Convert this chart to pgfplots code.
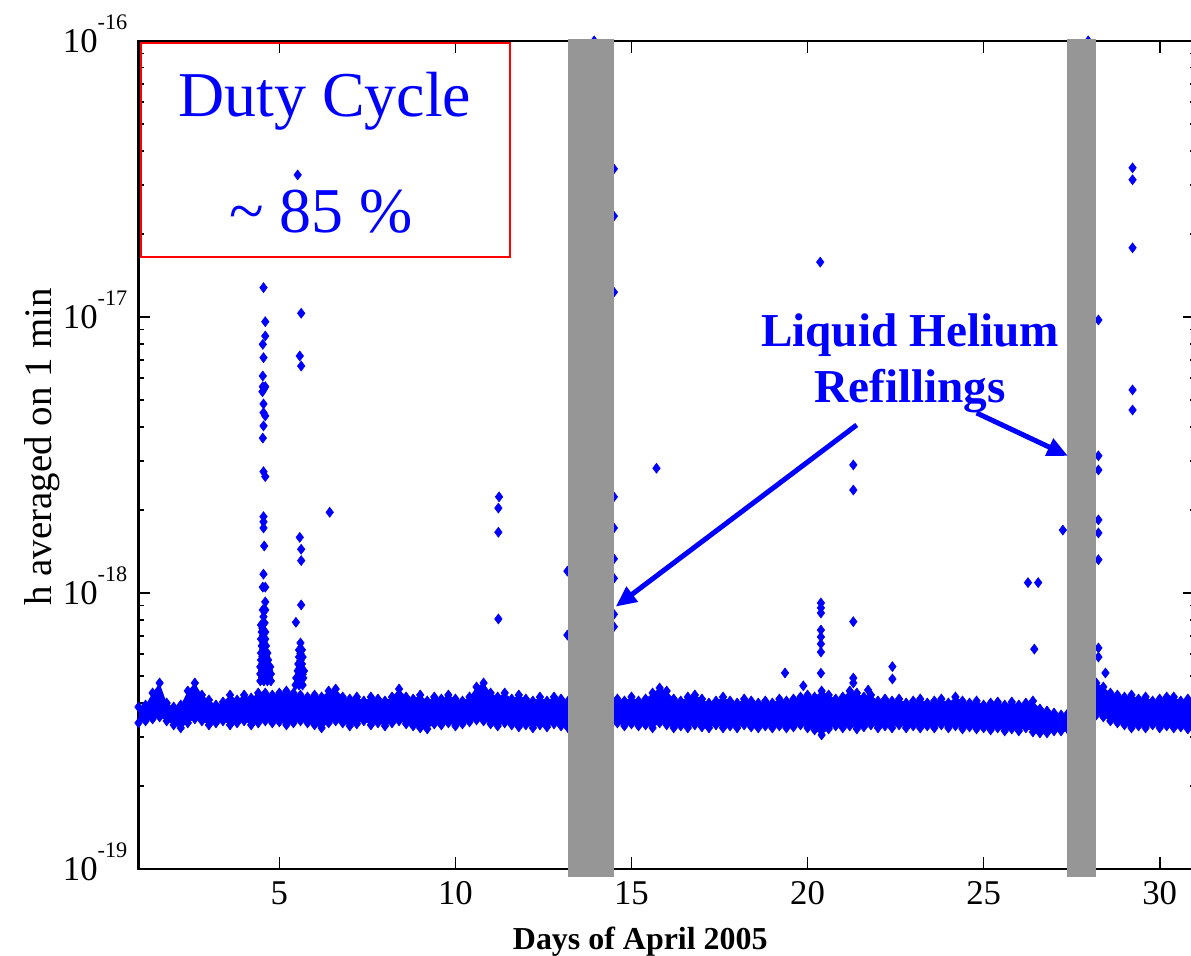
\documentclass[border=0pt]{standalone}
\usepackage{fontspec}
\setmainfont{Liberation Serif}
\usepackage{pgfplots}
\pgfplotsset{compat=1.18}
\usepackage{pgfplotstable}
\usepgfplotslibrary{fillbetween}
\usetikzlibrary{arrows.meta}

\definecolor{dblue}{HTML}{0000FF}
\definecolor{bargray}{HTML}{969696}
\definecolor{boxred}{HTML}{FF0000}

\newcommand{\ylab}[1]{10\raisebox{8.2pt}{\fontsize{8}{8}\selectfont -#1}}

% 1-min averages: upper and lower edge of the noise band
\pgfplotstableread{
d u l
1.0 3.864e-19 3.382e-19
1.2 3.929e-19 3.439e-19
1.4 4.342e-19 3.496e-19
1.6 4.719e-19 3.555e-19
1.8 3.995e-19 3.439e-19
2.0 3.864e-19 3.326e-19
2.2 3.929e-19 3.244e-19
2.4 4.415e-19 3.382e-19
2.6 4.719e-19 3.496e-19
2.8 4.270e-19 3.439e-19
3.0 4.096e-19 3.326e-19
3.2 3.929e-19 3.382e-19
3.4 4.028e-19 3.439e-19
3.6 4.270e-19 3.326e-19
3.8 4.096e-19 3.382e-19
4.0 4.270e-19 3.439e-19
4.2 4.165e-19 3.326e-19
4.4 4.342e-19 3.382e-19
4.6 4.342e-19 3.439e-19
4.8 4.270e-19 3.382e-19
5.0 4.342e-19 3.410e-19
5.2 4.415e-19 3.326e-19
5.4 4.342e-19 3.382e-19
5.6 4.270e-19 3.439e-19
5.8 4.200e-19 3.382e-19
6.0 4.270e-19 3.326e-19
6.2 4.200e-19 3.244e-19
6.4 4.415e-19 3.382e-19
6.6 4.489e-19 3.439e-19
6.8 4.200e-19 3.382e-19
7.0 4.130e-19 3.298e-19
7.2 4.200e-19 3.354e-19
7.4 4.062e-19 3.439e-19
7.6 4.200e-19 3.326e-19
7.8 4.130e-19 3.382e-19
8.0 4.062e-19 3.298e-19
8.2 4.200e-19 3.382e-19
8.4 4.489e-19 3.439e-19
8.6 4.200e-19 3.354e-19
8.8 4.130e-19 3.298e-19
9.0 4.270e-19 3.244e-19
9.2 4.062e-19 3.217e-19
9.4 4.200e-19 3.354e-19
9.6 4.130e-19 3.326e-19
9.8 4.270e-19 3.382e-19
10.0 4.130e-19 3.298e-19
10.2 4.062e-19 3.354e-19
10.4 4.200e-19 3.410e-19
10.6 4.565e-19 3.467e-19
10.8 4.719e-19 3.439e-19
11.0 4.342e-19 3.354e-19
11.2 4.200e-19 3.298e-19
11.4 4.342e-19 3.382e-19
11.6 4.130e-19 3.326e-19
11.8 4.270e-19 3.271e-19
12.0 4.130e-19 3.326e-19
12.2 4.062e-19 3.244e-19
12.4 4.200e-19 3.326e-19
12.6 4.062e-19 3.271e-19
12.8 4.200e-19 3.354e-19
13.0 4.130e-19 3.298e-19
13.2 4.062e-19 3.244e-19
13.4 4.100e-19 3.300e-19
13.6 4.100e-19 3.300e-19
13.8 4.100e-19 3.300e-19
14.0 4.100e-19 3.300e-19
14.2 4.100e-19 3.300e-19
14.4 4.100e-19 3.300e-19
14.6 4.130e-19 3.382e-19
14.8 4.062e-19 3.298e-19
15.0 4.200e-19 3.354e-19
15.2 4.062e-19 3.298e-19
15.4 4.130e-19 3.326e-19
15.6 4.342e-19 3.244e-19
15.8 4.527e-19 3.382e-19
16.0 4.415e-19 3.326e-19
16.2 4.130e-19 3.244e-19
16.4 4.062e-19 3.298e-19
16.6 4.200e-19 3.244e-19
16.8 4.270e-19 3.326e-19
17.0 4.130e-19 3.271e-19
17.2 3.995e-19 3.244e-19
17.4 4.062e-19 3.326e-19
17.6 4.200e-19 3.244e-19
17.8 4.062e-19 3.298e-19
18.0 3.995e-19 3.244e-19
18.2 4.130e-19 3.326e-19
18.4 4.062e-19 3.271e-19
18.6 3.995e-19 3.244e-19
18.8 4.062e-19 3.298e-19
19.0 3.995e-19 3.244e-19
19.2 4.130e-19 3.298e-19
19.4 4.062e-19 3.244e-19
19.6 4.130e-19 3.271e-19
19.8 4.200e-19 3.326e-19
20.0 4.270e-19 3.244e-19
20.2 4.200e-19 3.190e-19
20.4 4.415e-19 3.060e-19
20.6 4.270e-19 3.217e-19
20.8 4.130e-19 3.298e-19
21.0 4.200e-19 3.244e-19
21.2 4.415e-19 3.298e-19
21.4 4.342e-19 3.217e-19
21.6 4.200e-19 3.271e-19
21.8 4.270e-19 3.326e-19
22.0 4.062e-19 3.244e-19
22.2 4.130e-19 3.298e-19
22.4 4.062e-19 3.244e-19
22.6 4.130e-19 3.326e-19
22.8 3.995e-19 3.244e-19
23.0 4.062e-19 3.298e-19
23.2 4.130e-19 3.244e-19
23.4 3.995e-19 3.298e-19
23.6 4.062e-19 3.244e-19
23.8 4.130e-19 3.326e-19
24.0 3.995e-19 3.244e-19
24.2 4.200e-19 3.298e-19
24.4 4.062e-19 3.217e-19
24.6 3.995e-19 3.271e-19
24.8 4.062e-19 3.217e-19
25.0 3.929e-19 3.244e-19
25.2 3.995e-19 3.190e-19
25.4 4.028e-19 3.244e-19
25.6 3.929e-19 3.164e-19
25.8 4.028e-19 3.217e-19
26.0 3.929e-19 3.164e-19
26.2 3.995e-19 3.244e-19
26.4 4.062e-19 3.137e-19
26.6 3.800e-19 3.111e-19
26.8 3.737e-19 3.111e-19
27.0 3.675e-19 3.164e-19
27.2 3.615e-19 3.164e-19
27.4 3.675e-19 3.190e-19
27.6 3.700e-19 3.200e-19
27.8 3.700e-19 3.200e-19
28.0 3.700e-19 3.200e-19
28.2 4.719e-19 3.615e-19
28.4 4.565e-19 3.555e-19
28.6 4.342e-19 3.439e-19
28.8 4.270e-19 3.382e-19
29.0 4.200e-19 3.326e-19
29.2 4.270e-19 3.244e-19
29.4 4.130e-19 3.298e-19
29.6 4.200e-19 3.244e-19
29.8 4.062e-19 3.326e-19
30.0 4.130e-19 3.244e-19
30.2 4.200e-19 3.298e-19
30.4 4.200e-19 3.244e-19
30.6 4.062e-19 3.271e-19
30.8 4.130e-19 3.217e-19
31.0 4.062e-19 3.271e-19
}\band

% single minutes above the band
\pgfplotstableread{
d h
4.48 7.66e-19
4.58 7.79e-19
4.52 7.45e-19
4.50 7.22e-19
4.60 7.22e-19
4.54 7.00e-19
4.48 6.81e-19
4.60 6.81e-19
4.55 6.62e-19
4.50 6.43e-19
4.62 6.43e-19
4.54 6.25e-19
4.48 6.06e-19
4.58 6.06e-19
4.66 6.06e-19
4.52 5.89e-19
4.62 5.89e-19
4.48 5.72e-19
4.58 5.72e-19
4.68 5.72e-19
4.52 5.56e-19
4.62 5.56e-19
4.46 5.40e-19
4.56 5.40e-19
4.66 5.40e-19
4.74 5.40e-19
4.51 5.24e-19
4.61 5.24e-19
4.71 5.24e-19
4.46 5.09e-19
4.56 5.09e-19
4.66 5.09e-19
4.76 5.09e-19
4.51 4.94e-19
4.61 4.94e-19
4.71 4.94e-19
4.46 4.80e-19
4.56 4.80e-19
4.66 4.80e-19
4.76 4.80e-19
4.55 1.277e-17
4.60 9.61e-18
4.60 8.53e-18
4.53 7.96e-18
4.55 7.12e-18
4.53 6.11e-18
4.53 5.59e-18
4.60 5.59e-18
4.52 5.36e-18
4.57 5.50e-18
4.55 4.84e-18
4.55 4.50e-18
4.60 4.38e-18
4.55 4.03e-18
4.53 3.64e-18
4.55 2.75e-18
4.60 2.64e-18
4.55 1.89e-18
4.55 1.81e-18
4.55 1.72e-18
4.57 1.48e-18
4.55 1.17e-18
4.53 1.05e-18
4.60 1.05e-18
4.60 9.28e-19
4.53 8.68e-19
4.60 8.68e-19
4.55 8.20e-19
5.60 6.59e-19
5.64 6.22e-19
5.56 6.22e-19
5.60 6.04e-19
5.56 5.86e-19
5.66 5.86e-19
5.60 5.70e-19
5.54 5.53e-19
5.64 5.53e-19
5.58 5.37e-19
5.52 5.22e-19
5.62 5.22e-19
5.70 5.22e-19
5.56 5.07e-19
5.66 5.07e-19
5.48 4.92e-19
5.58 4.92e-19
5.68 4.92e-19
5.46 4.64e-19
5.56 4.64e-19
5.66 4.64e-19
5.52 3.27e-17
5.62 1.031e-17
5.58 7.22e-18
5.62 6.64e-18
5.58 1.59e-18
5.62 1.44e-18
5.62 1.31e-18
5.62 9.05e-19
5.47 7.83e-19
6.43 1.96e-18
11.24 2.23e-18
11.22 2.03e-18
11.22 1.66e-18
11.22 8.05e-19
13.18 1.20e-18
13.18 7.04e-19
13.94 1.0e-16
14.50 3.44e-17
14.50 2.32e-17
14.50 1.23e-17
14.50 2.23e-18
14.50 1.72e-18
14.50 1.33e-18
14.50 1.13e-18
14.50 8.37e-19
14.50 7.55e-19
15.71 2.83e-18
19.36 5.13e-19
19.88 4.61e-19
20.36 1.58e-17
20.38 9.20e-19
20.38 8.83e-19
20.38 8.46e-19
20.38 7.34e-19
20.38 6.93e-19
20.38 6.54e-19
20.38 6.11e-19
20.38 5.12e-19
21.30 2.91e-18
21.30 2.36e-18
21.30 7.87e-19
21.30 4.92e-19
21.30 4.72e-19
21.72 4.45e-19
22.41 5.41e-19
22.41 4.88e-19
26.26 1.09e-18
26.55 1.09e-18
26.44 6.26e-19
27.25 1.69e-18
27.97 1.0e-16
28.26 9.75e-18
28.26 3.14e-18
28.26 2.79e-18
28.26 1.84e-18
28.26 1.65e-18
28.26 1.32e-18
28.26 6.32e-19
28.26 5.86e-19
28.46 5.13e-19
29.23 3.47e-17
29.23 3.14e-17
29.23 1.78e-17
29.23 5.44e-18
29.23 4.60e-18
}\spikes

\begin{document}
\begin{tikzpicture}
\begin{axis}[
  scale only axis,
  width=380.3pt, height=298.1pt,
  xmin=1, xmax=31,
  ymode=log, ymin=1e-19, ymax=1e-16,
  clip=false, clip marker paths=true,
  axis line style={line width=0.75pt},
  xtick={5,10,15,20,25,30},
  xticklabels={5,10,15,20,25,30},
  ytick={1e-19,1e-18,1e-17,1e-16},
  yticklabels={\ylab{19},\ylab{18},\ylab{17},\ylab{16}},
  minor ytick={2e-19,3e-19,4e-19,5e-19,6e-19,7e-19,8e-19,9e-19,
    2e-18,3e-18,4e-18,5e-18,6e-18,7e-18,8e-18,9e-18,
    2e-17,3e-17,4e-17,5e-17,6e-17,7e-17,8e-17,9e-17},
  major tick length=4.3pt, minor tick length=1.8pt,
  tick style={black, line width=0.6pt},
  ticklabel style={font=\fontsize{12.5}{14}\selectfont},
  yticklabel style={anchor=base east, yshift=-4.2pt, xshift=-0.5pt},
  xticklabel style={yshift=-1pt},
  xlabel={Days of April 2005},
  xlabel style={font=\fontsize{11.5}{13}\selectfont\bfseries,
    at={(rel axis cs:0.475,0)}, anchor=north, yshift=-17.4pt},
  ylabel={h averaged on 1 min},
  ylabel style={font=\fontsize{14}{16}\selectfont,
    at={(rel axis cs:-0.0655,0.51)}, anchor=south},
]
\coordinate (O) at (rel axis cs:0,0);

% noise band
\addplot[name path=up, draw=none] table[x=d, y=u] {\band};
\addplot[name path=lo, draw=none] table[x=d, y=l] {\band};
\addplot[dblue] fill between[of=up and lo];
\addplot[only marks, mark=diamond*, mark size=1.8pt,
  mark options={draw=dblue, fill=dblue, line width=0.2pt}] table[x=d, y=u] {\band};
\addplot[only marks, mark=diamond*, mark size=1.8pt,
  mark options={draw=dblue, fill=dblue, line width=0.2pt}] table[x=d, y=l] {\band};

% excursions
\addplot[only marks, mark=diamond*, mark size=1.8pt,
  mark options={draw=dblue, fill=dblue, line width=0.2pt}] table[x=d, y=h] {\spikes};

% refillings
\addplot[fill=bargray, draw=none] coordinates {
  (13.195,9.35e-20) (14.498,9.35e-20) (14.498,1.017e-16) (13.195,1.017e-16)};
\addplot[fill=bargray, draw=none] coordinates {
  (27.377,9.35e-20) (28.181,9.35e-20) (28.181,1.017e-16) (27.377,1.017e-16)};

% annotations
\draw[boxred, line width=0.75pt] (rel axis cs:0.0021,0.7395) rectangle (rel axis cs:0.3517,0.9972);
\node[dblue, anchor=base, font=\fontsize{23}{27}\selectfont] at (rel axis cs:0.1765,0.9086) {Duty Cycle};
\node[dblue, anchor=base, font=\fontsize{23}{27}\selectfont] at (rel axis cs:0.1727,0.7681) {\textasciitilde\ 85 \%};
\node[dblue, anchor=base, font=\fontsize{17}{20}\selectfont\bfseries] at (rel axis cs:0.7303,0.6308) {Liquid Helium};
\node[dblue, anchor=base, font=\fontsize{17}{20}\selectfont\bfseries] at (rel axis cs:0.7303,0.5628) {Refillings};
\draw[dblue, line width=1.8pt, -{Triangle[length=7.5pt,width=6.5pt]}]
  (rel axis cs:0.6799,0.5362) -- (rel axis cs:0.4517,0.3168);
\draw[dblue, line width=1.8pt, -{Triangle[length=7.5pt,width=6.5pt]}]
  (rel axis cs:0.7934,0.5507) -- (rel axis cs:0.8799,0.4988);
\end{axis}
\pgfresetboundingbox
\path[use as bounding box] ([shift={(-49.86pt,-31.32pt)}]O) rectangle ([shift={(378.9pt,312.84pt)}]O);
\end{tikzpicture}
\end{document}
